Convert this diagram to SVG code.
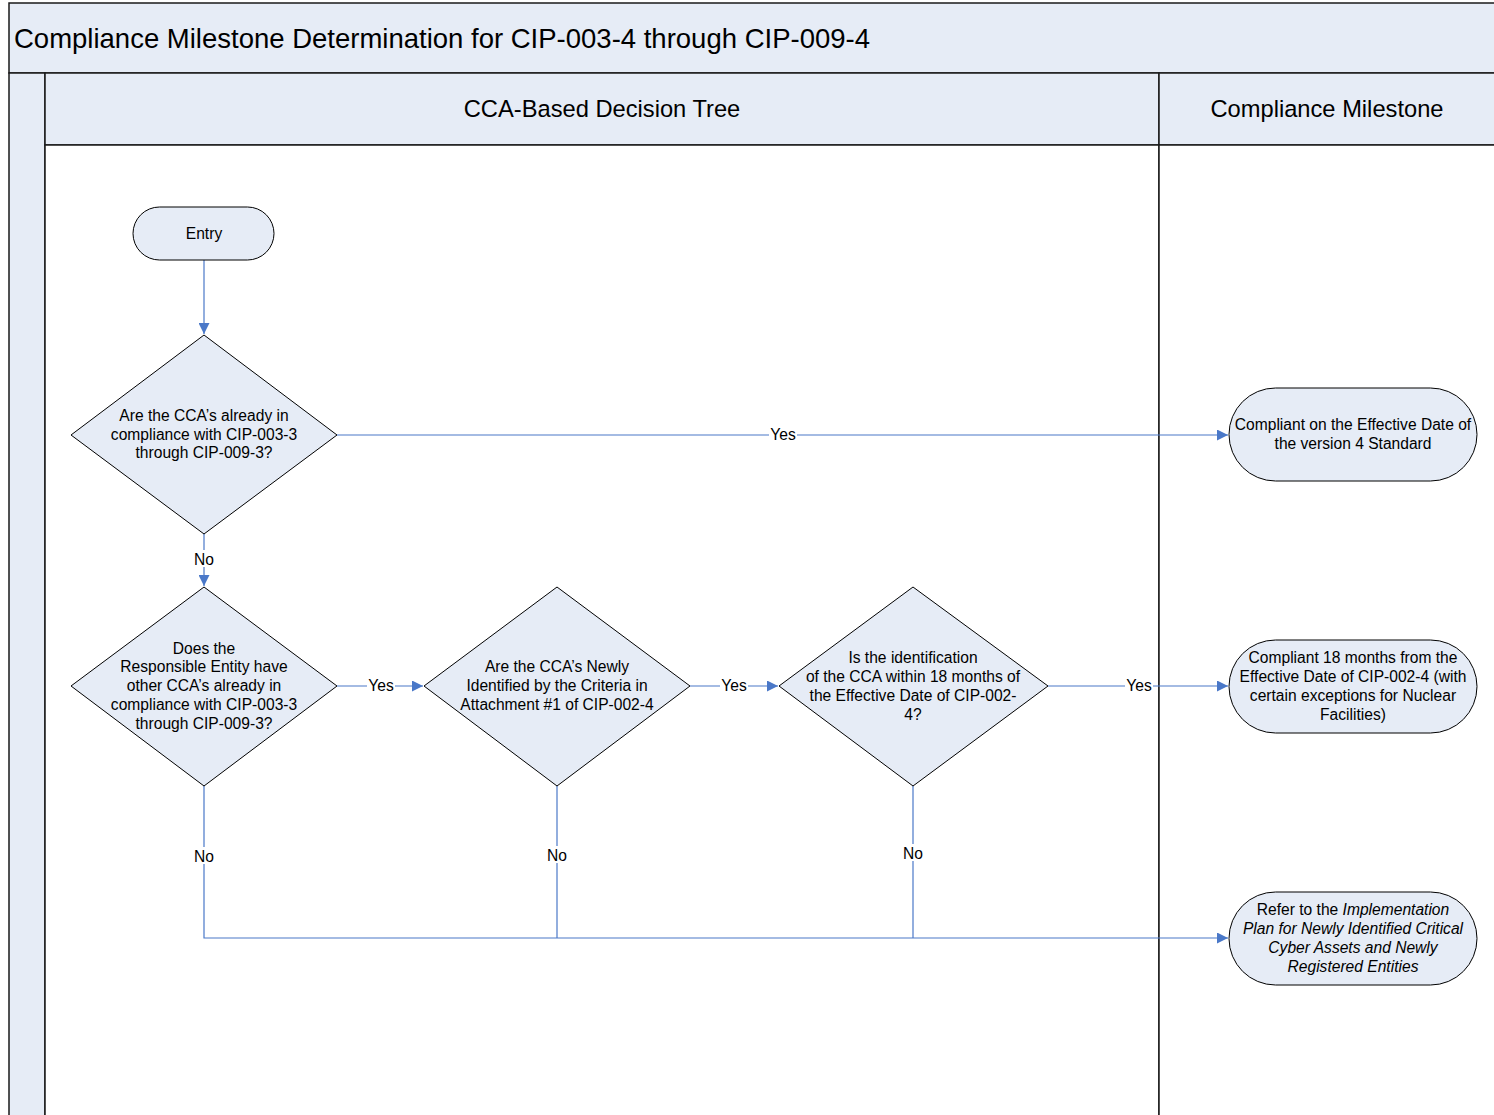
<svg xmlns="http://www.w3.org/2000/svg" width="1494" height="1115" viewBox="0 0 1494 1115">
<style>
.band{fill:#E6ECF6;stroke:#1a1a1a;stroke-width:1.5}
.node{fill:#E6ECF6;stroke:#000;stroke-width:1}
.t{font-family:"Liberation Sans",Arial,sans-serif;font-size:15.6px;fill:#000;text-anchor:middle}
.it{font-style:italic}
.c{fill:none;stroke:#4A78C8;stroke-width:1.2}
.lbl{font-family:"Liberation Sans",Arial,sans-serif;font-size:15.6px;fill:#000;text-anchor:middle}
.lb{fill:#fff}
</style>
<defs>
<marker id="ah" viewBox="0 0 10 10" refX="10" refY="5" markerWidth="11" markerHeight="11" markerUnits="userSpaceOnUse" orient="auto">
<path d="M0,0 L10,5 L0,10 Z" fill="#4A78C8"/>
</marker>
</defs>
<rect width="1494" height="1115" fill="#fff"/>
<g id="pool">
<rect class="band" x="9" y="3" width="1490" height="70"/>
<text x="14" y="48" font-family="Liberation Sans,Arial,sans-serif" font-size="27.5" fill="#000">Compliance Milestone Determination for CIP-003-4 through CIP-009-4</text>
<rect class="band" x="9" y="73" width="36" height="1050"/>
<rect class="band" x="45" y="73" width="1114" height="72"/>
<rect class="band" x="1159" y="73" width="340" height="72"/>
<rect x="45" y="145" width="1114" height="980" fill="#fff" stroke="#1a1a1a" stroke-width="1.5"/>
<rect x="1159" y="145" width="340" height="980" fill="#fff" stroke="#1a1a1a" stroke-width="1.5"/>
<text x="602" y="117" font-family="Liberation Sans,Arial,sans-serif" font-size="23.7" fill="#000" text-anchor="middle">CCA-Based Decision Tree</text>
<text x="1327" y="117" font-family="Liberation Sans,Arial,sans-serif" font-size="23.7" fill="#000" text-anchor="middle">Compliance Milestone</text>
</g>
<g id="connectors">
<line class="c" x1="204" y1="260" x2="204" y2="334" marker-end="url(#ah)"/>
<line class="c" x1="337" y1="435" x2="1228" y2="435" marker-end="url(#ah)"/>
<line class="c" x1="204" y1="534" x2="204" y2="586" marker-end="url(#ah)"/>
<line class="c" x1="337" y1="686" x2="423" y2="686" marker-end="url(#ah)"/>
<line class="c" x1="690" y1="686" x2="778" y2="686" marker-end="url(#ah)"/>
<line class="c" x1="1048" y1="686" x2="1228" y2="686" marker-end="url(#ah)"/>
<polyline class="c" points="204,786 204,938 1228,938" marker-end="url(#ah)"/>
<line class="c" x1="557" y1="786" x2="557" y2="938"/>
<line class="c" x1="913" y1="786" x2="913" y2="938"/>
<g class="lbl">
<rect class="lb" x="769" y="426" width="28" height="17"/><text x="783" y="440">Yes</text>
<rect class="lb" x="193" y="550" width="22" height="17"/><text x="204" y="565">No</text>
<rect class="lb" x="367" y="677" width="28" height="17"/><text x="381" y="691">Yes</text>
<rect class="lb" x="720" y="677" width="28" height="17"/><text x="734" y="691">Yes</text>
<rect class="lb" x="1125" y="677" width="28" height="17"/><text x="1139" y="691">Yes</text>
<rect class="lb" x="193" y="847" width="22" height="17"/><text x="204" y="862">No</text>
<rect class="lb" x="546" y="846" width="22" height="17"/><text x="557" y="861">No</text>
<rect class="lb" x="902" y="844" width="22" height="17"/><text x="913" y="859">No</text>
</g>
</g>
<g id="entry">
<rect class="node" x="133" y="207" width="141" height="53" rx="26.5"/>
<text class="t" x="204" y="239">Entry</text>
</g>
<g id="d1">
<polygon class="node" points="204,335 337,435 204,534 71,435"/>
<text class="t"><tspan x="204" y="421">Are the CCA’s already in</tspan><tspan x="204" y="440">compliance with CIP-003-3</tspan><tspan x="204" y="458">through CIP-009-3?</tspan></text>
</g>
<g id="d2">
<polygon class="node" points="204,587 337,686 204,786 71,686"/>
<text class="t"><tspan x="204" y="654">Does the</tspan><tspan x="204" y="672">Responsible Entity have</tspan><tspan x="204" y="691">other CCA’s already in</tspan><tspan x="204" y="710">compliance with CIP-003-3</tspan><tspan x="204" y="729">through CIP-009-3?</tspan></text>
</g>
<g id="d3">
<polygon class="node" points="557,587 690,686 557,786 424,686"/>
<text class="t"><tspan x="557" y="672">Are the CCA’s Newly</tspan><tspan x="557" y="691">Identified by the Criteria in</tspan><tspan x="557" y="710">Attachment #1 of CIP-002-4</tspan></text>
</g>
<g id="d4">
<polygon class="node" points="913,587 1048,686 913,786 779,686"/>
<text class="t"><tspan x="913" y="663">Is the identification</tspan><tspan x="913" y="682">of the CCA within 18 months of</tspan><tspan x="913" y="701">the Effective Date of CIP-002-</tspan><tspan x="913" y="720">4?</tspan></text>
</g>
<g id="m1">
<rect class="node" x="1229" y="388" width="248" height="93" rx="46.5"/>
<text class="t"><tspan x="1353" y="430">Compliant on the Effective Date of</tspan><tspan x="1353" y="449">the version 4 Standard</tspan></text>
</g>
<g id="m2">
<rect class="node" x="1229" y="640" width="248" height="93" rx="46.5"/>
<text class="t"><tspan x="1353" y="663">Compliant 18 months from the</tspan><tspan x="1353" y="682">Effective Date of CIP-002-4 (with</tspan><tspan x="1353" y="701">certain exceptions for Nuclear</tspan><tspan x="1353" y="720">Facilities)</tspan></text>
</g>
<g id="m3">
<rect class="node" x="1229" y="892" width="248" height="93" rx="46.5"/>
<text class="t"><tspan x="1353" y="915">Refer to the <tspan class="it">Implementation</tspan></tspan><tspan class="it" x="1353" y="934">Plan for Newly Identified Critical</tspan><tspan class="it" x="1353" y="953">Cyber Assets and Newly</tspan><tspan class="it" x="1353" y="972">Registered Entities</tspan></text>
</g>
</svg>
